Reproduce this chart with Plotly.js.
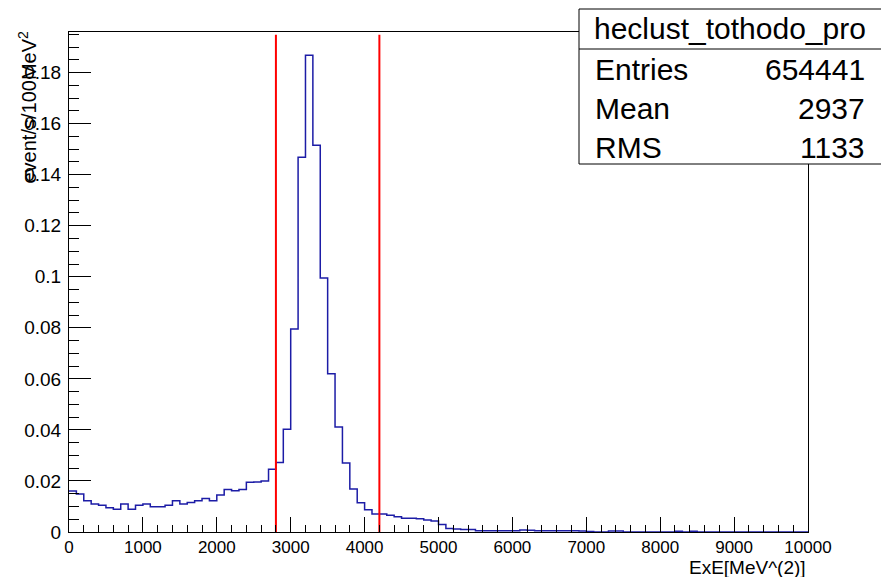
<!DOCTYPE html>
<html>
<head>
<meta charset="utf-8">
<script src="https://cdn.plot.ly/plotly-3.0.1.min.js"></script>
<style>html,body{margin:0;padding:0;background:#fff;}#chart{width:881px;height:577px;}</style>
</head>
<body>
<div id="chart"></div>
<script>
// Histogram: 100 bins of width 100 from 0 to 10000 (ExE [MeV^2])
const binLow = 0;
const binWidth = 100;
const binValues = [
  0.0161, 0.0149, 0.0122, 0.0110, 0.0105, 0.0095, 0.0089, 0.0110, 0.0089, 0.0105,
  0.0110, 0.0099, 0.0099, 0.0105, 0.0122, 0.0110, 0.0116, 0.0122, 0.0131, 0.0122,
  0.0145, 0.0167, 0.0162, 0.0167, 0.0195, 0.0196, 0.0200, 0.0246, 0.0272, 0.0403,
  0.0795, 0.1468, 0.1868, 0.1515, 0.0995, 0.0620, 0.0411, 0.0270, 0.0168, 0.0115,
  0.0087, 0.0071, 0.0071, 0.0066, 0.0060, 0.0054, 0.0054, 0.0052, 0.0047, 0.0043,
  0.0029, 0.0014, 0.0012, 0.0010, 0.0010, 0.0005, 0.0005, 0.0005, 0.0005, 0.0005,
  0.0005, 0.0008, 0.0007, 0.0005, 0.0005, 0.0005, 0.0005, 0.0005, 0.0005, 0.0004,
  0.0002, 0.0000, 0.0000, 0.0004, 0.0004, 0.0000, 0.0000, 0.0000, 0.0000, 0.0000,
  0.0000, 0.0000, 0.0003, 0.0000, 0.0003, 0.0000, 0.0000, 0.0000, 0.0000, 0.0000,
  0.0000, 0.0000, 0.0000, 0.0000, 0.0000, 0.0000, 0.0000, 0.0000, 0.0000, 0.0000
];
const cutLines = [2800, 4200];
const cutTop = 0.1948;
const xTickVals = [0, 1000, 2000, 3000, 4000, 5000, 6000, 7000, 8000, 9000, 10000];
const xTickLabels = ["0", "1000", "2000", "3000", "4000", "5000", "6000", "7000", "8000", "9000", "10000"];
const yTickVals = [0, 0.02, 0.04, 0.06, 0.08, 0.1, 0.12, 0.14, 0.16, 0.18];
const yTickLabels = ["0", "0.02", "0.04", "0.06", "0.08", "0.1", "0.12", "0.14", "0.16", "0.18"];
const statsTitle = "heclust_tothodo_pro";
const statsNames = ["Entries", "Mean", "RMS"];
const statsValues = ["654441", "2937", "1133"];
const xTitle = "ExE[MeV^(2)]";
const yTitle = "event/s/100MeV<sup>2</sup>";

// step outline
const hx = [], hy = [];
binValues.forEach((v, i) => { hx.push(binLow + i * binWidth); hy.push(v); });
hx.push(binLow + binValues.length * binWidth); hy.push(binValues[binValues.length - 1]);

const traces = [{
  x: hx, y: hy, type: 'scatter', mode: 'lines',
  line: {shape: 'hv', color: '#1c1ca6', width: 1.5},
  hoverinfo: 'skip'
}];
cutLines.forEach(c => traces.push({
  x: [c, c], y: [0, cutTop], type: 'scatter', mode: 'lines',
  line: {color: '#ff0000', width: 2}, hoverinfo: 'skip'
}));

// pixel -> paper helpers (plot area 69..808 x 32..532)
const L = 69, R = 808, T = 32, B = 532;
const px = X => (X - L) / (R - L);
const py = Y => (B - Y) / (B - T);
const font = 'Liberation Sans, Arial, Helvetica, sans-serif';

const annotations = [
  {text: yTitle, xref: 'paper', yref: 'paper', x: px(27), y: py(29), xanchor: 'center', yanchor: 'top',
   textangle: -90, showarrow: false, font: {family: font, size: 20, color: '#000'}},
  {text: xTitle, xref: 'paper', yref: 'paper', x: px(808), y: py(567), xanchor: 'right', yanchor: 'middle',
   showarrow: false, font: {family: font, size: 19, color: '#000'}},
  {text: statsTitle, xref: 'paper', yref: 'paper', x: px(729.5), y: py(29), xanchor: 'center', yanchor: 'middle',
   showarrow: false, font: {family: font, size: 30, color: '#000'}}
];
const rowY = [70, 108, 147];
statsNames.forEach((n, i) => {
  annotations.push({text: n, xref: 'paper', yref: 'paper', x: px(593), y: py(rowY[i]), xanchor: 'left', yanchor: 'middle',
    showarrow: false, font: {family: font, size: 30, color: '#000'}});
  annotations.push({text: statsValues[i], xref: 'paper', yref: 'paper', x: px(867), y: py(rowY[i]), xanchor: 'right', yanchor: 'middle',
    showarrow: false, font: {family: font, size: 30, color: '#000'}});
});

const layout = {
  width: 881, height: 577,
  margin: {l: L, r: 881 - R, t: T, b: 577 - B, pad: 0},
  paper_bgcolor: '#fff', plot_bgcolor: '#fff',
  showlegend: false,
  font: {family: font, color: '#000'},
  xaxis: {
    range: [0, 10000], tickmode: 'array', tickvals: xTickVals, ticktext: xTickLabels,
    ticks: 'inside', ticklen: 15, tickwidth: 1, tickcolor: '#000',
    minor: {tickmode: 'linear', tick0: 0, dtick: 200, ticks: 'inside', ticklen: 7, tickwidth: 1, tickcolor: '#000'},
    showgrid: false, zeroline: false, showline: true, linecolor: '#000', linewidth: 1, mirror: true,
    tickfont: {family: font, size: 17, color: '#000'}, fixedrange: true
  },
  yaxis: {
    range: [0, 0.1959], tickmode: 'array', tickvals: yTickVals, ticktext: yTickLabels,
    ticks: 'inside', ticklen: 22, tickwidth: 1, tickcolor: '#000',
    minor: {tickmode: 'linear', tick0: 0, dtick: 0.005, ticks: 'inside', ticklen: 10, tickwidth: 1, tickcolor: '#000'},
    showgrid: false, zeroline: false, showline: true, linecolor: '#000', linewidth: 1, mirror: true,
    tickfont: {family: font, size: 19, color: '#000'}, ticklabelstandoff: 3, fixedrange: true
  },
  shapes: [
    {type: 'rect', xref: 'paper', yref: 'paper', x0: px(579), x1: px(890), y0: py(164), y1: py(9),
     line: {color: '#000', width: 1}, fillcolor: '#fff', layer: 'above'},
    {type: 'line', xref: 'paper', yref: 'paper', x0: px(579), x1: px(890), y0: py(49), y1: py(49),
     line: {color: '#000', width: 1}, layer: 'above'}
  ],
  annotations: annotations
};

Plotly.newPlot('chart', traces, layout, {displayModeBar: false, staticPlot: true});
</script>
</body>
</html>
